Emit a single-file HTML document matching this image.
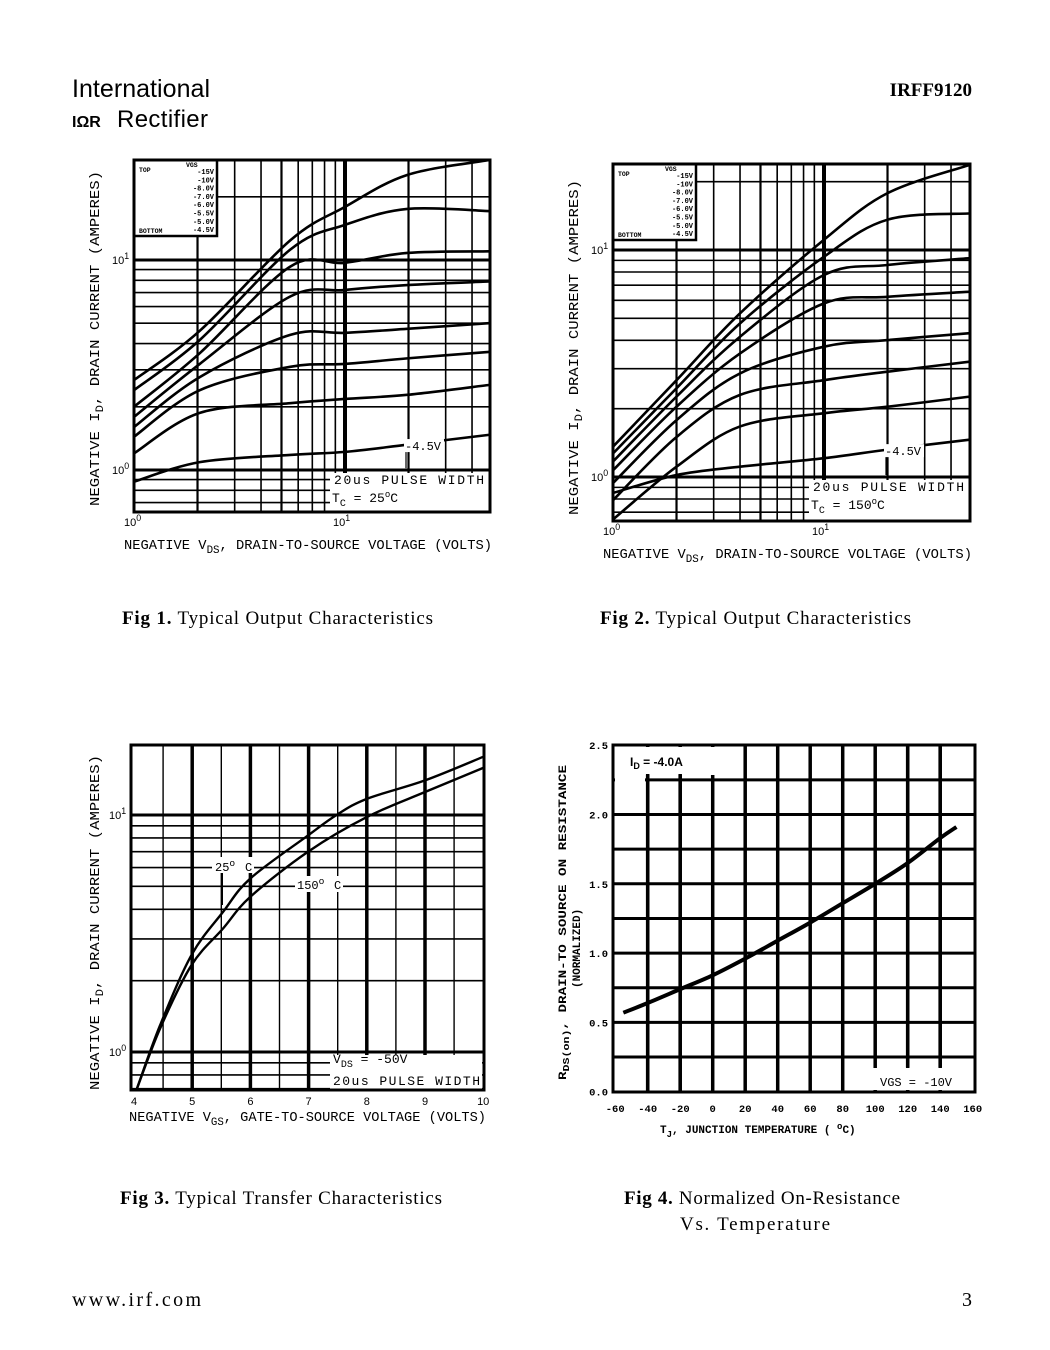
<!DOCTYPE html>
<html><head><meta charset="utf-8"><style>
html,body{margin:0;padding:0;background:#fff;}
svg{display:block;}
text{font-family:"Liberation Sans",sans-serif;fill:#000;}
.m{font-family:"Liberation Mono",monospace;}
.s{font-family:"Liberation Serif",serif;}
</style></head><body>
<svg id="page" width="1050" height="1350" viewBox="0 0 1050 1350" xmlns="http://www.w3.org/2000/svg">
<defs>
<clipPath id="c1"><rect x="134" y="160" width="356" height="352"/></clipPath>
<clipPath id="c2"><rect x="613" y="164" width="357" height="357"/></clipPath>
<clipPath id="c3"><rect x="131" y="745" width="353" height="345"/></clipPath>
<clipPath id="c4"><rect x="613" y="745" width="362" height="347"/></clipPath>
</defs>
<g>
<text x="72" y="97" font-size="25" font-weight="300" fill="#333" textLength="138">International</text>
<text x="72" y="127" font-size="16" font-weight="bold" font-family="Liberation Serif,serif">IΩR</text>
<text x="117" y="127" font-size="24" font-weight="300" fill="#333" textLength="91">Rectifier</text>
</g>
<text x="972" y="96" font-size="19" font-weight="bold" text-anchor="end" class="s">IRFF9120</text>
<g id="f1"></g>
<g id="f2"></g>
<g id="f3"></g>
<g id="f4"></g>
<text x="122" y="624" font-size="19" class="s" textLength="311"><tspan font-weight="bold">Fig 1.</tspan> Typical Output Characteristics</text>
<text x="600" y="624" font-size="19" class="s" textLength="311"><tspan font-weight="bold">Fig 2.</tspan> Typical Output Characteristics</text>
<text x="120" y="1204" font-size="19" class="s" textLength="322"><tspan font-weight="bold">Fig 3.</tspan> Typical Transfer Characteristics</text>
<text x="624" y="1204" font-size="19" class="s" textLength="276"><tspan font-weight="bold">Fig 4.</tspan> Normalized On-Resistance</text>
<text x="680" y="1230" font-size="19" class="s" textLength="150">Vs. Temperature</text>
<text x="72" y="1306" font-size="20" class="s" textLength="129">www.irf.com</text>
<text x="962" y="1306" font-size="20" class="s">3</text>
</svg>
<script>
// ---- Fig 1 data (25C) ----
const vds1 = [1, 2.05, 5.5, 10, 19.7, 48];
const f1_15 = [2.68, 4.6, 12.4, 17.9, 25.4, 29.9];
const f1_10 = [2.4, 4.16, 11.2, 14.7, 17.5, 17.1];
const f1_8 = [2.0, 3.6, 9.3, 9.7, 10.8, 11.0];
const f1_7 = [1.79, 3.2, 6.7, 7.2, 7.6, 7.9];
const f1_6 = [1.6, 2.77, 4.4, 4.5, 4.7, 5.0];
const f1_55 = [1.44, 2.4, 3.1, 3.2, 3.4, 3.65];
const f1_5 = [1.2, 1.87, 2.08, 2.18, 2.28, 2.54];
const f1_45 = [0.88, 1.09, 1.18, 1.22, 1.32, 1.47];
// ---- Fig 2 data (150C) ----
const vds2 = [1, 2, 4, 10, 20, 49];
const f2_15 = [1.36, 2.67, 5.26, 11.1, 17.8, 23.7];
const f2_10 = [1.27, 2.46, 4.75, 9.34, 13.6, 14.5];
const f2_8 = [1.17, 2.26, 4.15, 7.76, 8.59, 9.2];
const f2_7 = [1.07, 2.04, 3.5, 5.82, 6.22, 6.55];
const f2_6 = [0.94, 1.78, 2.86, 3.75, 4.01, 4.3];
const f2_55 = [0.79, 1.5, 2.3, 2.67, 2.91, 3.22];
const f2_5 = [0.65, 1.11, 1.67, 1.91, 2.04, 2.26];
const f2_45 = [0.85, 1.02, 1.11, 1.21, 1.32, 1.46];
// ---- Fig 3 data ----
const vgs25 = [4.05, 4.45, 4.99, 5.53, 6.0, 6.99, 7.48, 8.0, 9.0, 10.0];
const id25 = [0.70, 1.30, 2.57, 3.9, 5.4, 8.2, 10, 11.7, 14.0, 17.6];
const vgs150 = [4.05, 4.45, 4.99, 5.53, 6.0, 6.99, 8.0, 9.0, 10.0];
const id150 = [0.70, 1.26, 2.33, 3.32, 4.52, 7.0, 9.8, 12.5, 15.8];
// ---- Fig 4 data ----
const tj = [-55, -40, -20, 0, 20, 40, 60, 80, 100, 120, 140, 150];
const rdsNorm = [0.57, 0.64, 0.74, 0.84, 0.96, 1.09, 1.22, 1.36, 1.50, 1.65, 1.83, 1.91];
const f4xTicks = ["-60","-40","-20","0","20","40","60","80","100","120","140","160"];
const f4yTicks = ["0.0","0.5","1.0","1.5","2.0","2.5"];
const vgsLegend = ["-15V","-10V","-8.0V","-7.0V","-6.0V","-5.5V","-5.0V","-4.5V"];

const NS = "http://www.w3.org/2000/svg";
const L = Math.log10;
function mk(parent, tag, attrs, txt) {
  const e = document.createElementNS(NS, tag);
  for (const k in attrs) e.setAttribute(k, attrs[k]);
  if (txt !== undefined) e.textContent = txt;
  parent.appendChild(e);
  return e;
}
function line(g, x1, y1, x2, y2, w, name) {
  const e = mk(g, "line", {x1: x1, y1: y1, x2: x2, y2: y2, stroke: "#000", "stroke-width": w});
  
  
  return e;
}
function smooth(pts) {
  let d = "M" + pts[0][0] + "," + pts[0][1];
  for (let i = 0; i < pts.length - 1; i++) {
    const p0 = pts[Math.max(0, i - 1)], p1 = pts[i], p2 = pts[i + 1], p3 = pts[Math.min(pts.length - 1, i + 2)];
    const c1x = p1[0] + (p2[0] - p0[0]) / 6, c1y = p1[1] + (p2[1] - p0[1]) / 6;
    const c2x = p2[0] - (p3[0] - p1[0]) / 6, c2y = p2[1] - (p3[1] - p1[1]) / 6;
    d += " C" + c1x + "," + c1y + " " + c2x + "," + c2y + " " + p2[0] + "," + p2[1];
  }
  return d;
}
function curve(g, xs, ys, fx, fy, clip, name, w) {
  const pts = xs.map((v, i) => [fx(v), fy(ys[i])]);
  const p = mk(g, "path", {d: smooth(pts), fill: "none", stroke: "#000", "stroke-width": w || 2.6, "clip-path": "url(#" + clip + ")"});
  
  
}
function txt(g, x, y, s, size, name, extra) {
  const t = mk(g, "text", Object.assign({x: x, y: y, "font-size": size}, extra || {}), s);
  
  
  return t;
}
function supText(g, x, y, base, sup, size, name) {
  const t = mk(g, "text", {x: x, y: y, "font-size": size});
  
  
  mk(t, "tspan", {}, base);
  mk(t, "tspan", {dy: -5, "font-size": size * 0.8}, sup);
  return t;
}
function whiteRect(g, x, y, w, h, name, stroke) {
  const r = mk(g, "rect", {x: x, y: y, width: w, height: h, fill: "#fff", stroke: stroke ? "#000" : "none", "stroke-width": stroke || 0});
  
  
}

function outputChart(g, box, fx, fy, xmax, ymin, ymax, series, clip, tcLabel, yLblPos) {
  const [x0, y0, x1, y1] = box;
  [1, 10].forEach(dec => {
    for (let k = 1; k <= 9; k++) {
      const v = dec * k;
      if (v > xmax) continue;
      const x = fx(v);
      if (x <= x0 + 1 || x >= x1 - 1) continue;
      line(g, x, y0, x, y1, v === 10 ? 4 : (k === 5 || k === 2 ? 2.2 : 1.6), "x-grid-line");
    }
  });
  [0.1, 1, 10].forEach(dec => {
    for (let k = 1; k <= 9; k++) {
      const v = dec * k;
      if (v < ymin || v > ymax) continue;
      const y = fy(v);
      line(g, x0, y, x1, y, (v === 1 || v === 10) ? 3 : 1.6, "y-grid-line");
    }
  });
  whiteRect(g, box[0] + 196, fy(1) + 3, x1 - box[0] - 197, y1 - fy(1) - 4, "label-mask");
  series.forEach((s, i) => curve(g, s[0], s[1], fx, fy, clip, "curve-vgs-" + vgsLegend[i]));
  whiteRect(g, x0, y0, 83, 76, "legend-box", 2.5);
  txt(g, x0 + 5, y0 + 12, "TOP", 6.5, "legend-top", {"font-weight": "bold", class: "m"});
  txt(g, x0 + 5, y0 + 73, "BOTTOM", 6.5, "legend-bottom", {"font-weight": "bold", class: "m"});
  txt(g, x0 + 52, y0 + 7, "VGS", 6.5, "legend-title", {"font-weight": "bold", class: "m"});
  vgsLegend.forEach((v, i) => txt(g, x0 + 80, y0 + 14 + i * 8.3, v, 7, "legend-entry", {"text-anchor": "end", "font-weight": "bold", class: "m"}));
  const fr = mk(g, "rect", {x: x0, y: y0, width: x1 - x0, height: y1 - y0, fill: "none", stroke: "#000", "stroke-width": 3});
  
  
  const lx = x0 + 200;
  whiteRect(g, x1 - 86, fy(1.3) - 7, 40, 13, "vgs-4.5-mask");
  txt(g, x1 - 85, fy(1.3) + 4, "-4.5V", 12, "curve-label-4.5v", {class: "m"});
  line(g, x1 - 84, fy(1.3) + 6, x1 - 84, fy(1.02), 1.2, "leader-line");
  txt(g, lx, fy(1) + 14, "20us PULSE WIDTH", 13, "pulse-width-note", {class: "m", textLength: x1 - lx - 6});
  const tc = mk(g, "text", {x: lx - 2, y: fy(1) + 32, "font-size": 13, class: "m"});
  
  
  mk(tc, "tspan", {}, "T");
  mk(tc, "tspan", {dy: 4, "font-size": 10}, "C");
  mk(tc, "tspan", {dy: -4}, " = " + tcLabel);
  mk(tc, "tspan", {dy: -5, "font-size": 9}, "o");
  mk(tc, "tspan", {dy: 5}, "C");
  supText(g, x0 - 10, y1 + 14, "10", "0", 11, "x-tick-label");
  supText(g, fx(10) - 12, y1 + 14, "10", "1", 11, "x-tick-label");
  supText(g, x0 - 22, fy(10) + 4, "10", "1", 11, "y-tick-label");
  supText(g, x0 - 22, fy(1) + 4, "10", "0", 11, "y-tick-label");
  const xl = mk(g, "text", {x: x0 - 10, y: y1 + 37, "font-size": 14, class: "m", textLength: x1 - x0 + 12, lengthAdjust: "spacingAndGlyphs"});
  
  
  mk(xl, "tspan", {}, "NEGATIVE V");
  mk(xl, "tspan", {dy: 4, "font-size": 11}, "DS");
  mk(xl, "tspan", {dy: -4}, ", DRAIN-TO-SOURCE VOLTAGE (VOLTS)");
  const yl = mk(g, "text", {x: 0, y: 0, "font-size": 14, class: "m", transform: "translate(" + yLblPos[0] + "," + yLblPos[1] + ") rotate(-90)", textLength: 335, lengthAdjust: "spacingAndGlyphs"});
  
  
  mk(yl, "tspan", {}, "NEGATIVE I");
  mk(yl, "tspan", {dy: 4, "font-size": 11}, "D");
  mk(yl, "tspan", {dy: -4}, ", DRAIN CURRENT (AMPERES)");
}

const fx1 = v => 134 + 211 * L(v);
const fy1 = i => 470 - 210 * L(i);
outputChart(document.getElementById("f1"), [134, 160, 490, 512], fx1, fy1, 48.7, 0.64, 29.9,
  [[vds1, f1_15], [vds1, f1_10], [vds1, f1_8], [vds1, f1_7], [vds1, f1_6], [vds1, f1_55], [vds1, f1_5], [vds1, f1_45]],
  "c1", "25", [99, 506]);
const fx2 = v => 613 + 211 * L(v);
const fy2 = i => 477 - 227 * L(i);
outputChart(document.getElementById("f2"), [613, 164, 970, 521], fx2, fy2, 49.8, 0.63, 24,
  [[vds2, f2_15], [vds2, f2_10], [vds2, f2_8], [vds2, f2_7], [vds2, f2_6], [vds2, f2_55], [vds2, f2_5], [vds2, f2_45]],
  "c2", "150", [578, 515]);

(function () {
  const g = document.getElementById("f3");
  const fx = v => 134 + 58.2 * (v - 4);
  const fy = i => 1052 - 237 * L(i);
  const x0 = 131, y0 = 745, x1 = 484, y1 = 1090;
  for (let v = 4.5; v < 10; v += 0.5) {
    const whole = Math.abs(v - Math.round(v)) < 0.01;
    line(g, fx(v), y0, fx(v), y1, whole ? 3.5 : 1.4, "x-grid-line");
  }
  [0.7, 0.8, 0.9, 1, 2, 3, 4, 5, 6, 7, 8, 9, 10].forEach(v => line(g, x0, fy(v), x1, fy(v), (v === 1 || v === 10) ? 3 : 1.6, "y-grid-line"));
  whiteRect(g, 330, 1055, 152, 34, "label-mask");
  whiteRect(g, 212, 857, 42, 16, "label-mask-25c");
  whiteRect(g, 295, 876, 48, 16, "label-mask-150c");
  line(g, 222, 873, 222, 905, 2, "leader-25c");
  line(g, 309, 892, 309, 930, 2, "leader-150c");
  curve(g, vgs25, id25, fx, fy, "c3", "curve-25c", 2.4);
  curve(g, vgs150, id150, fx, fy, "c3", "curve-150c", 2.4);
  const fr = mk(g, "rect", {x: x0, y: y0, width: x1 - x0, height: y1 - y0, fill: "none", stroke: "#000", "stroke-width": 3});
  
  
  supText(g, 215, 871, "25", "o", 12, "label-25c").setAttribute("class", "m");
  txt(g, 245, 871, "C", 12, "label-25c-unit", {class: "m"});
  supText(g, 297, 889, "150", "o", 12, "label-150c").setAttribute("class", "m");
  txt(g, 334, 889, "C", 12, "label-150c-unit", {class: "m"});
  const vd = mk(g, "text", {x: 333, y: 1063, "font-size": 13, class: "m"});
  
  
  mk(vd, "tspan", {}, "V");
  mk(vd, "tspan", {dy: 4, "font-size": 10}, "DS");
  mk(vd, "tspan", {dy: -4}, "  =  -50V");
  txt(g, 333, 1085, "20us PULSE WIDTH", 13, "pulse-width-note", {class: "m", textLength: 147});
  for (let v = 4; v <= 10; v++) txt(g, fx(v), 1105, String(v), 11, "x-tick-label", {"text-anchor": "middle"});
  supText(g, 109, fy(10) + 4, "10", "1", 11, "y-tick-label");
  supText(g, 109, fy(1) + 4, "10", "0", 11, "y-tick-label");
  const xl = mk(g, "text", {x: 129, y: 1121, "font-size": 14, class: "m", textLength: 357, lengthAdjust: "spacingAndGlyphs"});
  
  
  mk(xl, "tspan", {}, "NEGATIVE V");
  mk(xl, "tspan", {dy: 4, "font-size": 11}, "GS");
  mk(xl, "tspan", {dy: -4}, ", GATE-TO-SOURCE VOLTAGE (VOLTS)");
  const yl = mk(g, "text", {x: 0, y: 0, "font-size": 14, class: "m", transform: "translate(99,1090) rotate(-90)", textLength: 335, lengthAdjust: "spacingAndGlyphs"});
  
  
  mk(yl, "tspan", {}, "NEGATIVE I");
  mk(yl, "tspan", {dy: 4, "font-size": 11}, "D");
  mk(yl, "tspan", {dy: -4}, ", DRAIN CURRENT (AMPERES)");
})();

(function () {
  const g = document.getElementById("f4");
  const fx = t => 712.7 + t * 32.5 / 20;
  const fy = r => 1091.7 - 138.6 * r;
  const x0 = 613, y0 = 745, x1 = 975, y1 = 1092;
  for (let t = -40; t < 160; t += 20) line(g, fx(t), y0, fx(t), y1, 3.5, "x-grid-line");
  for (let r = 0.25; r < 2.5; r += 0.25) line(g, x0, fy(r), x1, fy(r), 3, "y-grid-line");
  whiteRect(g, 615, 747, 100, 28, "id-label-mask");
  whiteRect(g, 615, fy(2.3), 30, 30, "mask");
  whiteRect(g, 873, 1068, 100, 22, "vgs-label-mask");
  line(g, fx(-40), fy(2.3), fx(-40), y1, 3.5, "leader-line");
  line(g, fx(-20), fy(2.3), fx(-20), y1, 3.5, "leader-line");
  line(g, fx(120), y0, fx(120), fy(0.25) + 10, 3.5, "leader-line");
  line(g, fx(140), y0, fx(140), fy(0.25) + 10, 3.5, "leader-line");
  whiteRect(g, 615, 747, 100, 27, "id-label-mask");
  curve(g, tj, rdsNorm, fx, fy, "c4", "rds-curve", 4);
  const fr = mk(g, "rect", {x: x0, y: y0, width: x1 - x0, height: y1 - y0, fill: "none", stroke: "#000", "stroke-width": 3});
  
  
  const id = mk(g, "text", {x: 630, y: 766, "font-size": 12, "font-weight": "bold"});
  
  
  mk(id, "tspan", {}, "I");
  mk(id, "tspan", {dy: 3, "font-size": 9}, "D");
  mk(id, "tspan", {dy: -3}, " = -4.0A");
  txt(g, 880, 1086, "VGS = -10V", 12, "vgs-condition", {class: "m"});
  f4xTicks.forEach((s, i) => txt(g, fx(-60 + i * 20), 1112, s, 10.5, "x-tick-label", {"text-anchor": "middle", "font-weight": "bold", class: "m"}));
  f4yTicks.forEach((s, i) => txt(g, 608, fy(i * 0.5) + 4, s, 10.5, "y-tick-label", {"text-anchor": "end", "font-weight": "bold", class: "m"}));
  const xl = mk(g, "text", {x: 660, y: 1133, "font-size": 11, "font-weight": "bold", class: "m"});
  
  
  mk(xl, "tspan", {}, "T");
  mk(xl, "tspan", {dy: 4, "font-size": 9}, "J");
  mk(xl, "tspan", {dy: -4}, ", JUNCTION TEMPERATURE ( ");
  mk(xl, "tspan", {dy: -4, "font-size": 9}, "o");
  mk(xl, "tspan", {dy: 4}, "C)");
  const yl = mk(g, "text", {x: 0, y: 0, "font-size": 11, "font-weight": "bold", class: "m", transform: "translate(566,1080) rotate(-90)", textLength: 315, lengthAdjust: "spacingAndGlyphs"});
  
  
  mk(yl, "tspan", {}, "R");
  mk(yl, "tspan", {dy: 3, "font-size": 9}, "DS(on)");
  mk(yl, "tspan", {dy: -3}, ", DRAIN-TO SOURCE ON RESISTANCE");
  txt(g, 0, 0, "(NORMALIZED)", 11, "y-axis-subtitle", {"font-weight": "bold", class: "m", transform: "translate(580,988) rotate(-90)"});
})();
</script>
</body></html>
